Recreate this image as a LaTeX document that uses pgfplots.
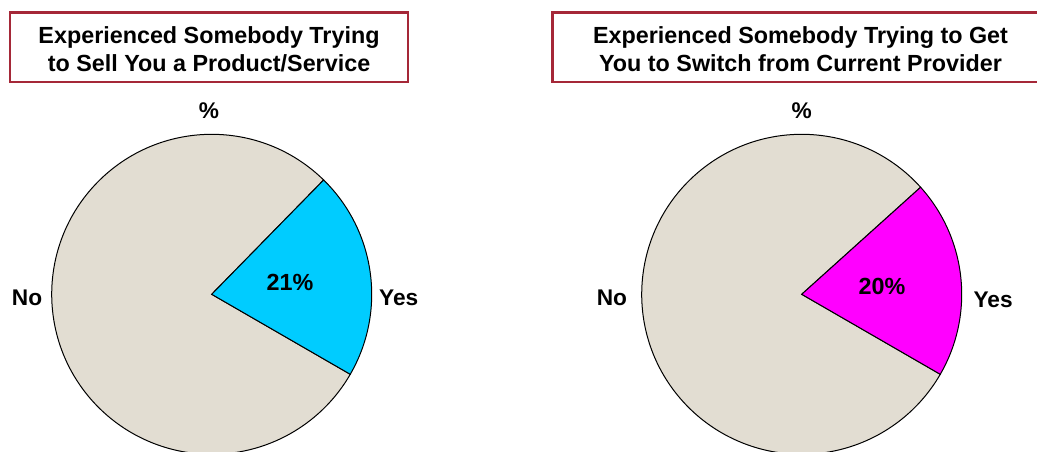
\documentclass[border=0pt]{standalone}
\usepackage{pgfplots}
\usepackage{pgfplotstable}
\pgfplotsset{compat=1.18}
\usepackage{fontspec}
\setmainfont{Liberation Sans}
\definecolor{pieGray}{RGB}{226,221,210}
\definecolor{pieCyan}{RGB}{0,204,255}
\definecolor{pieMag}{RGB}{255,0,255}
\definecolor{boxRed}{RGB}{165,40,56}

\pgfplotstableread{
label value
Yes 21
No 79
}\sellTable
\pgfplotstableread{
label value
Yes 20
No 80
}\switchTable

\pgfplotsset{pieaxis/.style={
  hide axis, scale only axis, width=240pt, height=240pt,
  xmin=-1, xmax=1, ymin=-1, ymax=1, enlargelimits=false, clip=false,
  anchor=center}}

\begin{document}
\begin{tikzpicture}[x=0.75pt,y=-0.75pt,font=\bfseries\fontsize{17}{20}\selectfont]
\useasboundingbox (0,0) rectangle (1037,452);
\clip (0,0) rectangle (1037,452);

% title boxes
\draw[boxRed, line width=1.9pt] (10,12.5) rectangle (408,82);
\node[align=center, font=\bfseries\fontsize{17.5}{21}\selectfont] at (209,49.5)
  {Experienced Somebody Trying\\to Sell You a Product/Service};
\draw[boxRed, line width=1.9pt] (552.5,12.5) rectangle (1050,82);
\node[align=center, font=\bfseries\fontsize{17.5}{21}\selectfont] at (800.5,49.5)
  {Experienced Somebody Trying to Get\\You to Switch from Current Provider};

% pie 1
\pgfplotstablegetelem{0}{value}\of\sellTable
\let\yesA\pgfplotsretval
\begin{axis}[pieaxis, at={(158.775pt,-220.725pt)}]
  \pgfmathsetmacro{\endA}{-30+3.6*\yesA}
  \filldraw[fill=pieGray, draw=black, line width=0.75pt]
    (axis cs:0,0) -- ++(\endA:120pt) arc[start angle=\endA, end angle=330, radius=120pt] -- cycle;
  \filldraw[fill=pieCyan, draw=black, line width=0.75pt]
    (axis cs:0,0) -- ++(-30:120pt) arc[start angle=-30, end angle=\endA, radius=120pt] -- cycle;
  \node[font=\bfseries\fontsize{17.5}{20}\selectfont] at (axis cs:0.489,0.071) {\yesA\%};
  \node at (axis cs:1.169,-0.023) {Yes};
  \node at (axis cs:-1.154,-0.023) {No};
  \node at (axis cs:-0.017,1.146) {\%};
\end{axis}

% pie 2
\pgfplotstablegetelem{0}{value}\of\switchTable
\let\yesB\pgfplotsretval
\begin{axis}[pieaxis, at={(601.275pt,-220.725pt)}]
  \pgfmathsetmacro{\endB}{-30+3.6*\yesB}
  \filldraw[fill=pieGray, draw=black, line width=0.75pt]
    (axis cs:0,0) -- ++(\endB:120pt) arc[start angle=\endB, end angle=330, radius=120pt] -- cycle;
  \filldraw[fill=pieMag, draw=black, line width=0.75pt]
    (axis cs:0,0) -- ++(-30:120pt) arc[start angle=-30, end angle=\endB, radius=120pt] -- cycle;
  \node[font=\bfseries\fontsize{17.5}{20}\selectfont] at (axis cs:0.502,0.052) {\yesB\%};
  \node at (axis cs:1.196,-0.036) {Yes};
  \node at (axis cs:-1.186,-0.023) {No};
  \node at (axis cs:0,1.146) {\%};
\end{axis}
\end{tikzpicture}
\end{document}
